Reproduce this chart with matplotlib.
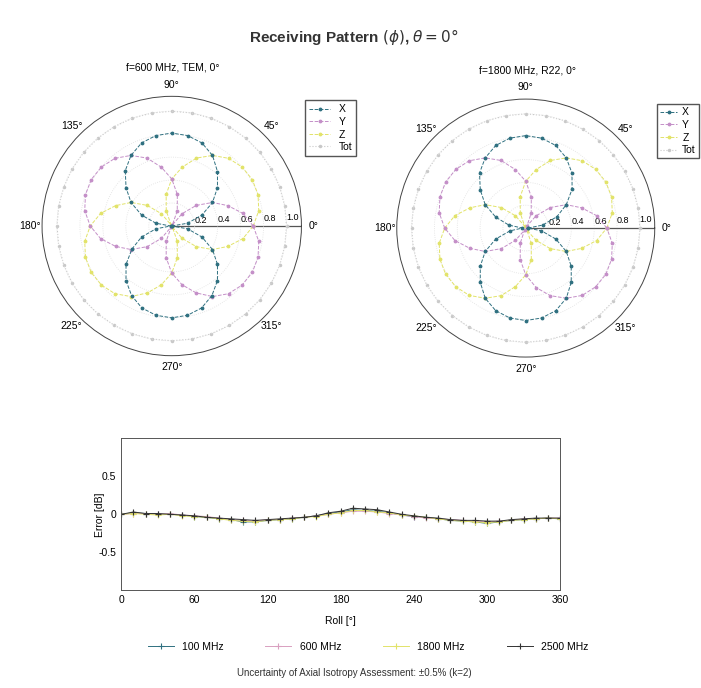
import numpy as np
import matplotlib.pyplot as plt

plt.rcParams['font.family'] = ['Liberation Sans', 'DejaVu Sans']

# ---------- data ----------
phi_deg = np.arange(0, 360, 10)

# f=600 MHz, TEM
x_600 = [0.00, 0.14, 0.28, 0.41, 0.52, 0.62, 0.71, 0.77, 0.80, 0.81, 0.80, 0.77, 0.71, 0.63, 0.52, 0.41, 0.28, 0.14,
         0.01, 0.14, 0.28, 0.40, 0.52, 0.62, 0.70, 0.76, 0.79, 0.80, 0.79, 0.76, 0.70, 0.62, 0.52, 0.41, 0.28, 0.14]
y_600 = [0.71, 0.63, 0.52, 0.41, 0.28, 0.14, 0.01, 0.14, 0.28, 0.41, 0.52, 0.63, 0.71, 0.77, 0.80, 0.81, 0.80, 0.77,
         0.71, 0.63, 0.52, 0.41, 0.28, 0.14, 0.01, 0.14, 0.28, 0.41, 0.52, 0.62, 0.71, 0.77, 0.80, 0.81, 0.80, 0.77]
z_600 = [0.71, 0.77, 0.80, 0.81, 0.80, 0.77, 0.71, 0.63, 0.52, 0.41, 0.28, 0.14, 0.01, 0.14, 0.28, 0.41, 0.52, 0.63,
         0.71, 0.77, 0.80, 0.81, 0.80, 0.77, 0.71, 0.62, 0.52, 0.41, 0.28, 0.14, 0.01, 0.14, 0.28, 0.41, 0.52, 0.63]
tot_600 = [1.00, 1.00, 1.00, 1.00, 1.00, 1.00, 1.00, 1.00, 1.00, 1.00, 1.00, 1.00, 1.00, 1.00, 1.00, 1.00, 1.00, 1.00,
           1.00, 1.00, 1.00, 1.00, 1.00, 1.00, 1.00, 1.00, 1.00, 1.00, 1.00, 1.00, 1.00, 1.00, 1.00, 1.00, 1.00, 1.00]

# f=1800 MHz, R22
x_1800 = [0.02, 0.15, 0.29, 0.41, 0.53, 0.63, 0.71, 0.77, 0.80, 0.81, 0.80, 0.77, 0.71, 0.63, 0.52, 0.41, 0.28, 0.15,
          0.03, 0.14, 0.28, 0.41, 0.52, 0.62, 0.71, 0.77, 0.80, 0.81, 0.80, 0.77, 0.71, 0.62, 0.52, 0.41, 0.28, 0.14]
y_1800 = [0.71, 0.63, 0.52, 0.41, 0.28, 0.14, 0.02, 0.14, 0.28, 0.41, 0.52, 0.63, 0.71, 0.77, 0.80, 0.81, 0.80, 0.77,
          0.71, 0.63, 0.52, 0.41, 0.28, 0.14, 0.02, 0.14, 0.28, 0.41, 0.53, 0.63, 0.71, 0.77, 0.80, 0.81, 0.80, 0.77]
z_1800 = [0.71, 0.77, 0.80, 0.81, 0.80, 0.77, 0.71, 0.63, 0.52, 0.41, 0.28, 0.14, 0.02, 0.14, 0.28, 0.41, 0.52, 0.63,
          0.71, 0.77, 0.80, 0.81, 0.80, 0.77, 0.71, 0.63, 0.52, 0.41, 0.28, 0.14, 0.02, 0.14, 0.28, 0.41, 0.52, 0.63]
tot_1800 = [1.00, 1.00, 1.00, 1.00, 1.00, 1.00, 1.00, 1.00, 1.00, 1.00, 1.00, 1.00, 1.00, 1.00, 1.00, 1.00, 1.00, 1.00,
            1.00, 1.00, 1.00, 1.00, 1.00, 1.00, 1.00, 1.00, 1.00, 1.00, 1.00, 1.00, 1.00, 1.00, 1.00, 1.00, 1.00, 1.00]

# axial isotropy error vs roll
roll = np.arange(0, 370, 10)
err_100 = [0.00, 0.02, 0.01, 0.00, 0.00, -0.01, -0.03, -0.04, -0.06, -0.07, -0.10, -0.10, -0.08, -0.07, -0.06, -0.04,
           -0.02, 0.01, 0.03, 0.06, 0.05, 0.04, 0.02, -0.01, -0.03, -0.04, -0.06, -0.08, -0.09, -0.10, -0.12, -0.10,
           -0.08, -0.07, -0.06, -0.05, -0.06]
err_600 = [0.00, 0.01, 0.01, 0.00, 0.01, -0.01, -0.02, -0.03, -0.05, -0.07, -0.08, -0.09, -0.07, -0.07, -0.05, -0.04,
           -0.02, 0.00, 0.02, 0.04, 0.04, 0.03, 0.01, -0.01, -0.03, -0.05, -0.06, -0.07, -0.08, -0.09, -0.10, -0.09,
           -0.08, -0.06, -0.06, -0.05, -0.05]
err_1800 = [0.00, 0.01, 0.00, -0.01, 0.00, -0.02, -0.03, -0.04, -0.06, -0.08, -0.09, -0.10, -0.08, -0.07, -0.06, -0.04,
            -0.03, 0.00, 0.02, 0.05, 0.05, 0.03, 0.02, -0.01, -0.02, -0.04, -0.06, -0.08, -0.09, -0.10, -0.11, -0.10,
            -0.08, -0.07, -0.06, -0.05, -0.06]
err_2500 = [0.00, 0.03, 0.01, 0.01, 0.00, -0.01, -0.02, -0.04, -0.05, -0.06, -0.07, -0.08, -0.07, -0.06, -0.05, -0.04,
            -0.02, 0.02, 0.04, 0.08, 0.07, 0.06, 0.03, 0.00, -0.02, -0.04, -0.05, -0.07, -0.08, -0.08, -0.09, -0.09,
            -0.07, -0.06, -0.05, -0.05, -0.05]

freq_labels = ['100 MHz', '600 MHz', '1800 MHz', '2500 MHz']

# ---------- styles ----------
c_x = '#2f7080'
c_y = '#c48fc8'
c_z = '#e2e36a'
c_tot = '#c8c8c8'
err_colors = ['#2f7080', '#d9a0c0', '#e2e36a', '#333333']


def closed(vals):
    return np.append(vals, vals[0])


def polar_panel(ax, x, y, z, tot):
    th = np.deg2rad(closed(phi_deg))
    ax.plot(th, closed(tot), ls=':', lw=0.8, color=c_tot, marker='.', ms=3, label='Tot', zorder=1)
    ax.plot(th, closed(x), ls='--', lw=0.7, color=c_x, marker='.', ms=3.5, label='X', zorder=4)
    ax.plot(th, closed(y), ls='--', lw=0.7, color=c_y, marker='.', ms=3.5, label='Y', zorder=3)
    ax.plot(th, closed(z), ls='--', lw=0.7, color=c_z, marker='.', ms=3.5, label='Z', zorder=2)
    ax.set_rlim(0, 1.13)
    ax.set_rticks([0.2, 0.4, 0.6, 0.8, 1.0])
    ax.set_yticklabels(['0.2', '0.4', '0.6', '0.8', '1.0'], fontsize=6.5)
    ax.set_rlabel_position(2)
    ax.set_thetagrids(range(0, 360, 45), [f'{a}°' for a in range(0, 360, 45)], fontsize=7.5)
    ax.tick_params(axis='x', pad=-2)
    ax.xaxis.grid(False)
    ax.yaxis.grid(True, ls=':', lw=0.6, color='#e0e0e0')
    ax.axvline(0, color='#555555', lw=0.9, zorder=0)
    ax.spines['polar'].set_linewidth(0.7)
    ax.spines['polar'].set_color('#444444')


fig = plt.figure(figsize=(7.01, 6.88), dpi=100)
fig.text(0.505, 0.946, r'Receiving Pattern $(\phi)$, $\theta = 0°$', ha='center', va='center',
         fontsize=11, fontweight='bold', color='#333333')

order = [1, 2, 3, 0]

ax1 = fig.add_axes([0.060, 0.483, 0.370, 0.377], projection='polar')
polar_panel(ax1, x_600, y_600, z_600, tot_600)
fig.text(0.246, 0.902, 'f=600 MHz, TEM, 0°', ha='center', va='center', fontsize=7.5)
h, l = ax1.get_legend_handles_labels()
ax1.legend([h[i] for i in order], [l[i] for i in order], loc='upper left',
           bbox_to_anchor=(0.428, 0.862), bbox_transform=fig.transFigure,
           fontsize=7.5, handlelength=2.0, borderpad=0.4, labelspacing=0.25, fancybox=False,
           edgecolor='#555555', framealpha=1)

ax2 = fig.add_axes([0.566, 0.480, 0.368, 0.377], projection='polar')
polar_panel(ax2, x_1800, y_1800, z_1800, tot_1800)
fig.text(0.752, 0.898, 'f=1800 MHz, R22, 0°', ha='center', va='center', fontsize=7.5)
h, l = ax2.get_legend_handles_labels()
ax2.legend([h[i] for i in order], [l[i] for i in order], loc='upper left',
           bbox_to_anchor=(0.930, 0.856), bbox_transform=fig.transFigure,
           fontsize=7.5, handlelength=1.6, handletextpad=0.5, borderpad=0.3, labelspacing=0.25,
           fancybox=False, edgecolor='#555555', framealpha=1)

# ---------- error vs roll ----------
ax3 = fig.add_axes([0.173, 0.142, 0.626, 0.221])
for vals, col, lab in zip([err_100, err_600, err_1800, err_2500], err_colors, freq_labels):
    ax3.plot(roll, vals, color=col, lw=0.7, marker='+', ms=4, mew=0.8, label=lab)
ax3.set_xlim(0, 360)
ax3.set_ylim(-1, 1)
ax3.set_xticks(range(0, 361, 60))
ax3.set_yticks([-0.5, 0, 0.5])
ax3.set_yticklabels(['-0.5', '0', '0.5'])
ax3.tick_params(labelsize=7.5, length=0)
ax3.set_xlabel('Roll [°]', fontsize=7.5, labelpad=8)
ax3.set_ylabel('Error [dB]', fontsize=7.5)
ax3.yaxis.set_label_coords(-0.038, 0.5)
for s in ax3.spines.values():
    s.set_linewidth(0.7)
    s.set_color('#555555')
ax3.legend(loc='center', bbox_to_anchor=(0.525, 0.060), bbox_transform=fig.transFigure, ncol=4,
           fontsize=7.5, frameon=False, handlelength=2.5, columnspacing=4.0)
fig.text(0.505, 0.022, 'Uncertainty of Axial Isotropy Assessment: ±0.5% (k=2)', ha='center', va='center',
         fontsize=7, color='#333333')

plt.savefig('out.png', dpi=100)
plt.close()
